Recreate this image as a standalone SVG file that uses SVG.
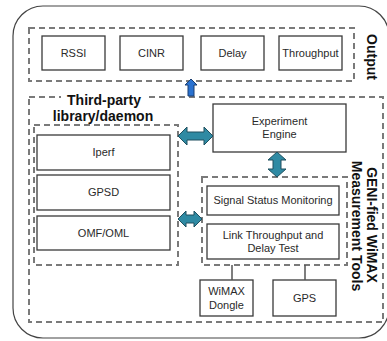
<svg xmlns="http://www.w3.org/2000/svg" width="387" height="341" viewBox="0 0 387 341">
<style>
.box{fill:#fff;stroke:#3a3a3a;stroke-width:1.3}
.dash{fill:none;stroke:#7a7a7a;stroke-width:2;stroke-dasharray:6 4}
.t{font-family:"Liberation Sans",Arial,sans-serif;font-size:11px;fill:#2a2a2a;text-anchor:middle}
.b{font-family:"Liberation Sans",Arial,sans-serif;font-size:14px;font-weight:bold;fill:#111;text-anchor:middle}
.teal{fill:#2f8aa3;stroke:#1e4f5e;stroke-width:1}
.blue{fill:#2a72d0;stroke:#1b3f72;stroke-width:1}
.line{stroke:#555;stroke-width:1.5}
</style>
<rect x="13" y="6" width="376" height="332" rx="30" fill="#fff" stroke="#444" stroke-width="1.2"/>
<rect class="dash" x="29" y="28" width="325" height="53"/>
<rect class="dash" x="29" y="97" width="354" height="225"/>
<rect class="dash" x="34" y="125" width="144" height="140"/>
<rect class="dash" x="202" y="177" width="145" height="88"/>
<rect x="61" y="91" width="88" height="13" fill="#fff"/>
<text class="b" transform="translate(367,57) rotate(90)">Output</text>
<text class="b" transform="translate(367,225) rotate(90)" font-size="14.5">GENI-fied WiMAX</text>
<text class="b" transform="translate(352,226) rotate(90)" font-size="14.5">Measurement Tools</text>
<text class="b" x="104" y="105" font-size="15">Third-party</text>
<text class="b" x="103" y="121" font-size="15">library/daemon</text>
<g id="rssi"><rect class="box" x="42" y="36" width="63" height="34"/><text class="t" x="73.5" y="57">RSSI</text></g>
<g id="cinr"><rect class="box" x="120" y="36" width="63" height="34"/><text class="t" x="151.5" y="57">CINR</text></g>
<g id="delay"><rect class="box" x="201" y="36" width="63" height="34"/><text class="t" x="232.5" y="57">Delay</text></g>
<g id="throughput"><rect class="box" x="279" y="36" width="63" height="34"/><text class="t" x="310.5" y="57">Throughput</text></g>
<g id="iperf"><rect class="box" x="37" y="135" width="133" height="35"/><text class="t" x="103.5" y="156">Iperf</text></g>
<g id="gpsd"><rect class="box" x="37" y="175" width="133" height="35"/><text class="t" x="103.5" y="196">GPSD</text></g>
<g id="omf"><rect class="box" x="37" y="216" width="133" height="34"/><text class="t" x="103.5" y="237">OMF/OML</text></g>
<g id="engine"><rect class="box" x="213" y="104" width="133" height="48"/><text class="t" x="279.5" y="125">Experiment</text><text class="t" x="279.5" y="138">Engine</text></g>
<g id="signal"><rect class="box" x="207" y="186" width="132" height="29"/><text class="t" x="273" y="204">Signal Status Monitoring</text></g>
<g id="link"><rect class="box" x="207" y="224" width="132" height="35"/><text class="t" x="273" y="239">Link Throughput and</text><text class="t" x="273" y="252">Delay Test</text></g>
<g id="wimax"><rect class="box" x="200" y="280" width="53" height="36"/><text class="t" x="226.5" y="295">WiMAX</text><text class="t" x="226.5" y="309">Dongle</text></g>
<g id="gps"><rect class="box" x="273" y="280" width="63" height="36"/><text class="t" x="304.5" y="302">GPS</text></g>
<g id="connectors">
<line class="line" x1="232" y1="265" x2="232" y2="280"/>
<line class="line" x1="305" y1="265" x2="305" y2="280"/>
<polygon class="blue" points="191,79 197,85 194,85 194,96 188,96 188,85 185,85"/>
<polygon class="teal" points="178,136 187,127 187,132 204,132 204,127 213,136 204,145 204,140 187,140 187,145"/>
<polygon class="teal" points="178,219 186,211 186,215 194,215 194,211 202,219 194,227 194,223 186,223 186,227"/>
<polygon class="teal" points="277,152 286,160 281,160 281,169 286,169 277,177 268,169 273,169 273,160 268,160"/>
</g>
</svg>
